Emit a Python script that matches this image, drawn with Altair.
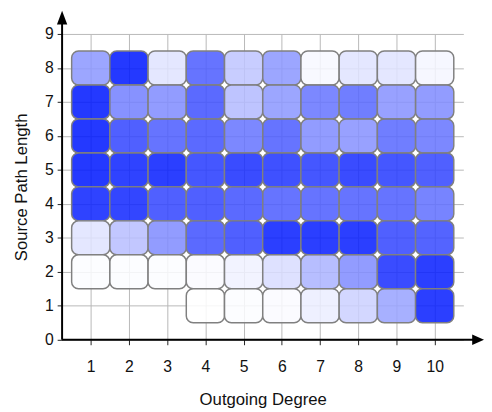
import altair as alt
import pandas as pd

# ---- data ----
x_degrees = [1, 2, 3, 4, 5, 6, 7, 8, 9, 10]
y_lengths = [8, 7, 6, 5, 4, 3, 2, 1]
row_8 = [0.45, 1.00, 0.12, 0.70, 0.25, 0.45, 0.03, 0.12, 0.12, 0.04]
row_7 = [1.00, 0.55, 0.50, 0.75, 0.30, 0.45, 0.60, 0.65, 0.47, 0.50]
row_6 = [1.00, 0.80, 0.70, 0.75, 0.60, 0.70, 0.50, 0.47, 0.65, 0.60]
row_5 = [1.00, 0.95, 0.97, 0.85, 0.90, 0.88, 0.85, 0.90, 0.85, 0.80]
row_4 = [0.95, 0.93, 0.80, 0.80, 0.75, 0.70, 0.70, 0.70, 0.70, 0.62]
row_3 = [0.12, 0.28, 0.50, 0.75, 0.80, 0.97, 0.97, 0.97, 0.80, 0.78]
row_2 = [0.01, 0.01, 0.01, 0.02, 0.06, 0.15, 0.33, 0.50, 0.90, 0.97]
row_1 = [None, None, None, 0.00, 0.01, 0.02, 0.08, 0.20, 0.40, 0.97]
rows = [row_8, row_7, row_6, row_5, row_4, row_3, row_2, row_1]

x_ticks = list(range(1, 11))
y_ticks = list(range(0, 10))

records = []
for yv, row in zip(y_lengths, rows):
    for xv, v in zip(x_degrees, row):
        if v is None:
            continue
        records.append({"x0": xv - 0.5, "x1": xv + 0.5,
                        "y0": yv - 0.5, "y1": yv + 0.5, "v": v})
df = pd.DataFrame(records)

FONT = "Liberation Sans"
xs = alt.Scale(domain=[0.25, 10.75], nice=False, zero=False)
ys = alt.Scale(domain=[0, 9], nice=False, zero=False)
x_axis = alt.Axis(values=x_ticks, title="Outgoing Degree", grid=True, domain=False,
                  labelOverlap=False, tickSize=5, tickColor="#222",
                  labelPadding=14, titlePadding=18)
y_axis = alt.Axis(values=y_ticks, title="Source Path Length", grid=True, domain=False,
                  labelOverlap=False, tickSize=5, tickColor="#222",
                  labelPadding=4, titlePadding=14)

cells = alt.Chart(df).mark_rect(
    cornerRadius=7, stroke="#808080", strokeWidth=1.5, fillOpacity=0.86
).encode(
    x=alt.X("x0:Q", scale=xs, axis=x_axis),
    x2="x1:Q",
    y=alt.Y("y0:Q", scale=ys, axis=y_axis),
    y2="y1:Q",
    fill=alt.Fill("v:Q", scale=alt.Scale(domain=[0, 1], range=["#ffffff", "#0018ff"],
                                         interpolate="rgb"),
                  legend=None),
)

xaxis_df = pd.DataFrame({"x": [0.25], "x2": [11.05], "y": [0]})
yaxis_df = pd.DataFrame({"x": [0.25], "y": [0], "y2": [9.4]})
xline = alt.Chart(xaxis_df).mark_rule(color="black", strokeWidth=2).encode(
    x=alt.X("x:Q", scale=xs, axis=x_axis), x2="x2:Q",
    y=alt.Y("y:Q", scale=ys, axis=y_axis))
yline = alt.Chart(yaxis_df).mark_rule(color="black", strokeWidth=2).encode(
    x=alt.X("x:Q", scale=xs, axis=x_axis),
    y=alt.Y("y:Q", scale=ys, axis=y_axis), y2="y2:Q")

xarrow = alt.Chart(pd.DataFrame({"x": [11.29], "y": [0]})).mark_point(
    shape="M0,0 L-2,-0.9 L-2,0.9 Z", filled=True, color="black", opacity=1,
    size=144, strokeWidth=0).encode(x=alt.X("x:Q", scale=xs, axis=x_axis),
                                    y=alt.Y("y:Q", scale=ys, axis=y_axis))
yarrow = alt.Chart(pd.DataFrame({"x": [0.25], "y": [9.68]})).mark_point(
    shape="M0,0 L-0.75,2 L0.75,2 Z", filled=True, color="black", opacity=1,
    size=196, strokeWidth=0).encode(x=alt.X("x:Q", scale=xs, axis=x_axis),
                                    y=alt.Y("y:Q", scale=ys, axis=y_axis))

chart = alt.layer(cells, xline, yline, xarrow, yarrow).properties(
    width=408, height=311,
    autosize=alt.AutoSizeParams(type="none"),
    padding={"left": 55, "top": 23, "right": 21, "bottom": 69},
).configure_view(stroke=None).configure_axis(
    labelFont=FONT, titleFont=FONT, labelFontSize=16, titleFontSize=17,
    titleFontWeight="normal", labelColor="#111", titleColor="#111",
    gridColor="#b8b8b8", gridWidth=1,
)

chart.save("out.html", embed_options={"renderer": "svg", "actions": False})
